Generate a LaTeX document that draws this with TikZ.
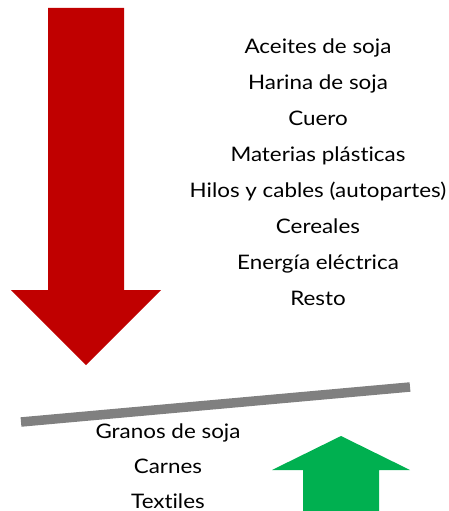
\documentclass[tikz,border=0pt]{standalone}
\usepackage{fontspec}
\setmainfont{Lato}[FakeStretch=1.12,Ligatures=NoCommon]
\definecolor{arrred}{HTML}{C00000}
\definecolor{arrgreen}{HTML}{00B050}
\definecolor{bargray}{HTML}{808080}
\begin{document}
\begin{tikzpicture}[x=1pt,y=-1pt,
  lbl/.style={anchor=base,inner sep=0pt,font=\fontsize{20}{23}\selectfont,text=black}]
\useasboundingbox (0,0) rectangle (448,511);
% red arrow down
\fill[arrred] (48,8) -- (124,8) -- (124,290) -- (161,290) -- (86,365) -- (11,290) -- (48,290) -- cycle;
% gray bar
\draw[bargray,line width=9.5pt] (21,422) -- (410,387);
% green arrow up
\fill[arrgreen] (303,511) -- (303,470) -- (272,470) -- (341,436) -- (410,470) -- (379,470) -- (379,511) -- cycle;
% right list
\foreach \t [count=\i] in {Aceites de soja,Harina de soja,Cuero,Materias plásticas,Hilos y cables (autopartes),Cereales,Energía eléctrica,Resto}
  \node[lbl] (r\i) at (318,{54+35.9*(\i-1)}) {\t};
% bottom list
\node[lbl] (g1) at (168,438) {Granos de soja};
\node[lbl] (g2) at (168,473) {Carnes};
\node[lbl] (g3) at (168,508) {Textiles};
\end{tikzpicture}
\end{document}
